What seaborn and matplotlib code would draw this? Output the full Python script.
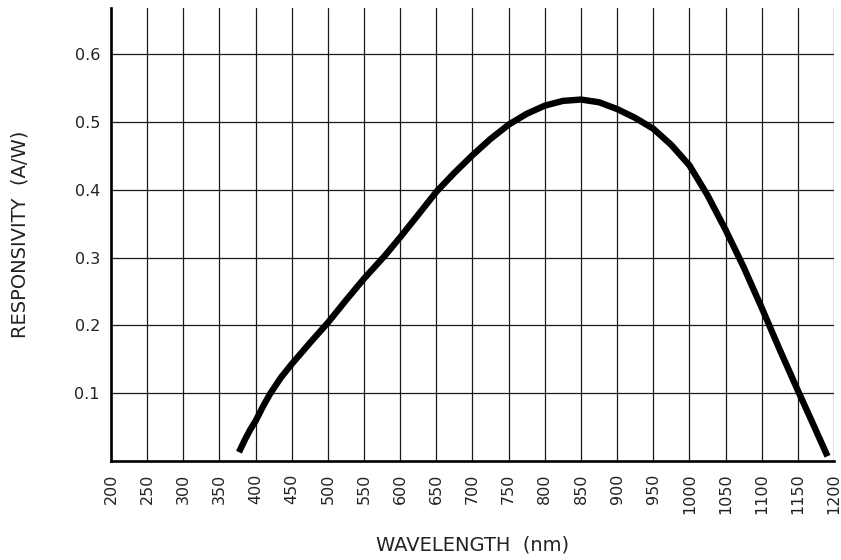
import matplotlib
matplotlib.use("Agg")
import matplotlib.pyplot as plt
import seaborn as sns
import pandas as pd

wavelength_nm = [377, 385, 393, 400, 410, 420, 435, 450, 475, 500, 525, 550, 579, 600,
                 627, 650, 675, 700, 725, 750, 775, 800, 825, 850, 875, 900, 925, 950,
                 975, 1000, 1025, 1050, 1075, 1100, 1125, 1150, 1170, 1191]
responsivity = [0.013, 0.031, 0.047, 0.059, 0.080, 0.099, 0.123, 0.143, 0.174, 0.204,
                0.237, 0.269, 0.303, 0.330, 0.366, 0.397, 0.425, 0.451, 0.475, 0.496,
                0.512, 0.524, 0.531, 0.533, 0.529, 0.519, 0.506, 0.490, 0.466, 0.436,
                0.392, 0.341, 0.286, 0.226, 0.164, 0.104, 0.057, 0.007]

x_ticks = list(range(200, 1201, 50))
y_ticks = [0.1, 0.2, 0.3, 0.4, 0.5, 0.6]
y_tick_labels = ["0.1", "0.2", "0.3", "0.4", "0.5", "0.6"]

sns.set_theme(style="white")
plt.rcParams["font.family"] = ["DejaVu Sans"]

df = pd.DataFrame({"wl": wavelength_nm, "r": responsivity})

fig = plt.figure(figsize=(8.41, 5.6), dpi=100)
ax = fig.add_axes([111 / 841, 99 / 560, 723 / 841, 453 / 560])

sns.lineplot(data=df, x="wl", y="r", ax=ax, color="black", linewidth=4.6,
             sort=False, solid_capstyle="butt", solid_joinstyle="round", zorder=3)

ax.set_xlim(200, 1200)
ax.set_ylim(0, 0.668)
ax.set_xticks(x_ticks)
ax.set_xticklabels([str(v) for v in x_ticks], rotation=90)
ax.set_yticks(y_ticks)
ax.set_yticklabels(y_tick_labels)

ax.grid(True, color="#1a1a1a", linewidth=0.9)
ax.set_axisbelow(True)

for s in ["top", "right"]:
    ax.spines[s].set_visible(False)
for s in ["left", "bottom"]:
    ax.spines[s].set_visible(True)
    ax.spines[s].set_color("black")
    ax.spines[s].set_linewidth(1.9)
    ax.spines[s].set_zorder(4)

ax.tick_params(axis="both", length=0, labelsize=11.5, colors="#222222")
ax.tick_params(axis="x", pad=9)
ax.tick_params(axis="y", pad=8)

ax.set_xlabel("WAVELENGTH  (nm)", fontsize=14, color="#222222", va="center")
ax.xaxis.set_label_coords(0.5, (461 - 545) / 453)
ax.set_ylabel("RESPONSIVITY  (A/W)", fontsize=14, color="#222222", va="center")
ax.yaxis.set_label_coords((20 - 111) / 723, 0.5)

fig.savefig("out.png", dpi=100, facecolor="white")
